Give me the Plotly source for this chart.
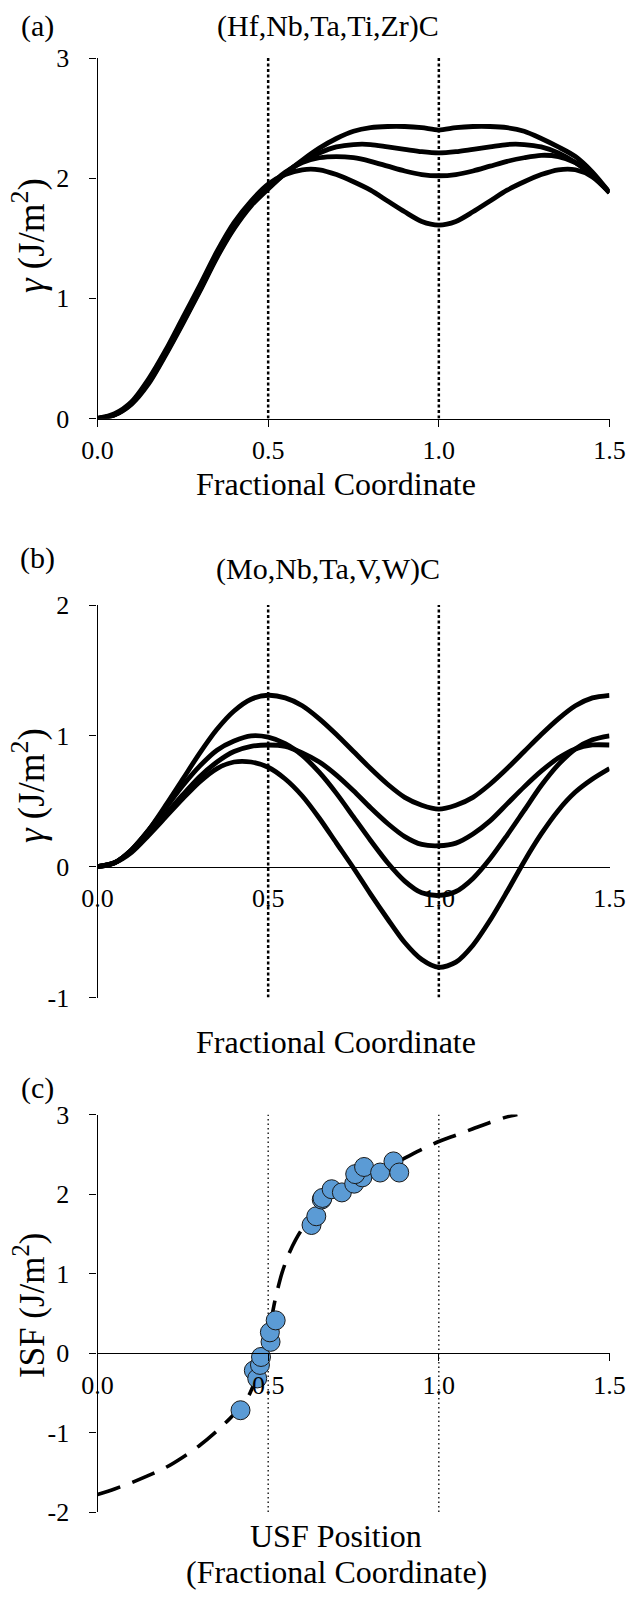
import plotly.graph_objects as go

# ---------------- data ----------------
x_frac = [0.00, 0.05, 0.10, 0.15, 0.20, 0.25, 0.30, 0.35, 0.40, 0.45,
          0.50, 0.55, 0.60, 0.65, 0.70, 0.75, 0.80, 0.85, 0.90, 0.95,
          1.00, 1.05, 1.10, 1.15, 1.20, 1.25, 1.30, 1.35, 1.40, 1.45, 1.50]

# panel (a) (Hf,Nb,Ta,Ti,Zr)C
a_curve1 = [0, 0.03, 0.12, 0.29, 0.53, 0.79, 1.06, 1.34, 1.58, 1.77, 1.91, 2.04, 2.15, 2.25, 2.33, 2.39,
            2.42, 2.43, 2.43, 2.42, 2.40, 2.42, 2.43, 2.43, 2.42, 2.39, 2.33, 2.26, 2.18, 2.05, 1.88]
a_curve2 = [0, 0.03, 0.13, 0.30, 0.54, 0.80, 1.07, 1.35, 1.59, 1.78, 1.92, 2.04, 2.14, 2.21, 2.26, 2.28,
            2.28, 2.26, 2.24, 2.22, 2.21, 2.22, 2.24, 2.26, 2.28, 2.28, 2.26, 2.21, 2.13, 2.02, 1.88]
a_curve3 = [0, 0.03, 0.13, 0.31, 0.55, 0.81, 1.08, 1.36, 1.60, 1.79, 1.93, 2.05, 2.13, 2.17, 2.18, 2.17,
            2.14, 2.10, 2.06, 2.03, 2.02, 2.03, 2.06, 2.10, 2.14, 2.17, 2.19, 2.18, 2.13, 2.03, 1.88]
a_curve4 = [0, 0.04, 0.14, 0.33, 0.57, 0.84, 1.11, 1.39, 1.63, 1.81, 1.95, 2.03, 2.07, 2.07, 2.03, 1.97,
            1.90, 1.81, 1.72, 1.64, 1.61, 1.64, 1.72, 1.81, 1.90, 1.97, 2.03, 2.07, 2.07, 2.01, 1.88]

# panel (b) (Mo,Nb,Ta,V,W)C
b_curve1 = [0, 0.03, 0.13, 0.28, 0.47, 0.67, 0.87, 1.05, 1.19, 1.28, 1.31, 1.29, 1.23, 1.13, 1.01, 0.88,
            0.75, 0.63, 0.53, 0.47, 0.44, 0.47, 0.53, 0.63, 0.75, 0.88, 1.01, 1.13, 1.23, 1.29, 1.31]
b_curve2 = [0, 0.03, 0.13, 0.28, 0.45, 0.62, 0.77, 0.89, 0.96, 1.00, 0.99, 0.94, 0.85, 0.72, 0.56, 0.38,
            0.20, 0.03, -0.11, -0.20, -0.22, -0.19, -0.09, 0.06, 0.24, 0.43, 0.62, 0.78, 0.90, 0.97, 1.00]
b_curve3 = [0, 0.03, 0.12, 0.25, 0.40, 0.55, 0.69, 0.80, 0.88, 0.92, 0.93, 0.92, 0.87, 0.80, 0.70, 0.58,
            0.45, 0.33, 0.23, 0.17, 0.16, 0.18, 0.25, 0.35, 0.48, 0.61, 0.73, 0.83, 0.90, 0.93, 0.93]
b_curve4 = [0, 0.03, 0.11, 0.24, 0.38, 0.52, 0.65, 0.75, 0.80, 0.80, 0.76, 0.67, 0.54, 0.37, 0.18, -0.01,
            -0.21, -0.40, -0.58, -0.71, -0.77, -0.73, -0.60, -0.41, -0.19, 0.04, 0.25, 0.43, 0.57, 0.67, 0.75]

# panel (c) ISF vs USF position
c_fit_x = [0.00, 0.05, 0.10, 0.15, 0.20, 0.25, 0.30, 0.35, 0.40, 0.44, 0.46, 0.48, 0.50, 0.52, 0.54,
           0.56, 0.58, 0.60, 0.65, 0.70, 0.75, 0.80, 0.85, 0.90, 0.95, 1.00, 1.05, 1.10, 1.15, 1.20, 1.23]
c_fit_y = [-1.78, -1.71, -1.63, -1.54, -1.44, -1.31, -1.16, -0.98, -0.77, -0.56, -0.37, -0.11, 0.22, 0.66,
           1.00, 1.24, 1.42, 1.56, 1.80, 1.97, 2.10, 2.22, 2.34, 2.45, 2.56, 2.66, 2.74, 2.82, 2.90, 2.97, 3.00]
c_pts_x = [0.419, 0.458, 0.468, 0.476, 0.479, 0.507, 0.505, 0.522, 0.627, 0.641, 0.657, 0.659,
           0.686, 0.716, 0.752, 0.776, 0.755, 0.781, 0.828, 0.867, 0.884]
c_pts_y = [-0.72, -0.22, -0.32, -0.15, -0.05, 0.14, 0.26, 0.41, 1.61, 1.72, 1.93, 1.95,
           2.06, 2.02, 2.13, 2.21, 2.25, 2.34, 2.27, 2.41, 2.27]

x_ticks = [0, 0.5, 1.0, 1.5]
x_ticktext = ["0.0", "0.5", "1.0", "1.5"]
a_yticks = [0, 1, 2, 3]
b_yticks = [-1, 0, 1, 2]
c_yticks = [-2, -1, 0, 1, 2, 3]
guide_x = [0.5, 1.0]

# ---------------- figure ----------------
W, H = 640, 1598
FONT = "Liberation Serif, Times New Roman, serif"
TICK = 26

def py(p):
    return 1 - p / H

fig = go.Figure()

curve_line = dict(color="black", width=4.8, shape="spline", smoothing=0.8)

for gx in guide_x:
    fig.add_trace(go.Scatter(x=[gx, gx], y=[0, 3], mode="lines", xaxis="x", yaxis="y",
                             line=dict(color="black", width=2.5, dash="3px,2.5px")))
    fig.add_trace(go.Scatter(x=[gx, gx], y=[-1, 2], mode="lines", xaxis="x2", yaxis="y2",
                             line=dict(color="black", width=2.5, dash="3px,2.5px")))
    fig.add_trace(go.Scatter(x=[gx, gx], y=[-2, 3], mode="lines", xaxis="x3", yaxis="y3",
                             line=dict(color="black", width=1.3, dash="1.5px,3px")))

for c in [a_curve1, a_curve2, a_curve3, a_curve4]:
    fig.add_trace(go.Scatter(x=x_frac, y=c, mode="lines", xaxis="x", yaxis="y", line=curve_line))
for c in [b_curve1, b_curve2, b_curve3, b_curve4]:
    fig.add_trace(go.Scatter(x=x_frac, y=c, mode="lines", xaxis="x2", yaxis="y2", line=curve_line))

fig.add_trace(go.Scatter(x=c_fit_x, y=c_fit_y, mode="lines", xaxis="x3", yaxis="y3",
                         line=dict(color="black", width=3.6, dash="24px,13px", shape="spline", smoothing=0.8)))
fig.add_trace(go.Scatter(x=c_pts_x, y=c_pts_y, mode="markers", xaxis="x3", yaxis="y3",
                         marker=dict(size=19, color="#5B9BD5", line=dict(color="#1a1a1a", width=1))))

xdom = [97.5 / W, 609.5 / W]
axis_common = dict(showline=True, linecolor="black", linewidth=1.3, showgrid=False, zeroline=False,
                   automargin=False,
                   tickfont=dict(family=FONT, size=TICK, color="black"), tickcolor="black",
                   tickwidth=1.3)

def hy(vals):
    return [str(v) for v in vals]

fig.update_layout(
    width=W, height=H, margin=dict(l=0, r=0, t=0, b=0, autoexpand=False),
    paper_bgcolor="white", plot_bgcolor="white", showlegend=False,
    font=dict(family=FONT, color="black"),
    xaxis=dict(domain=xdom, range=[0, 1.5], tickvals=x_ticks, ticktext=x_ticktext, anchor="y",
               ticks="outside", ticklen=7, ticklabelstandoff=1, **axis_common),
    yaxis=dict(domain=[py(418.5), py(58)], range=[0, 3], tickvals=a_yticks, ticktext=hy(a_yticks),
               anchor="x", ticks="outside", ticklen=7, ticklabelstandoff=15, **axis_common),
    xaxis2=dict(domain=xdom, range=[0, 1.5], tickvals=x_ticks, ticktext=x_ticktext, anchor="free",
                position=py(866.7), ticks="", ticklabelstandoff=8, **axis_common),
    yaxis2=dict(domain=[py(997.5), py(605)], range=[-1, 2], tickvals=b_yticks, ticktext=hy(b_yticks),
                anchor="x2", ticks="outside", ticklen=7, ticklabelstandoff=15, **axis_common),
    xaxis3=dict(domain=xdom, range=[0, 1.5], tickvals=x_ticks, ticktext=x_ticktext, anchor="free",
                position=py(1353), ticks="outside", ticklen=7, ticklabelstandoff=2, **axis_common),
    yaxis3=dict(domain=[py(1512), py(1114.5)], range=[-2, 3], tickvals=c_yticks, ticktext=hy(c_yticks),
                anchor="x3", ticks="outside", ticklen=7, ticklabelstandoff=15, **axis_common),
)

def ann(text, x, y, size, angle=0):
    fig.add_annotation(text=text, x=x / W, y=py(y), xref="paper", yref="paper",
                       xanchor="center", yanchor="middle", showarrow=False, textangle=angle,
                       font=dict(family=FONT, size=size, color="black"))

ann("(a)", 37, 26, 30)
ann("(Hf,Nb,Ta,Ti,Zr)C", 328, 26, 30)
ann("Fractional Coordinate", 336, 484, 32)
ann("<i>γ</i> (J/m<sup>2</sup>)", 29, 236, 37, -90)

ann("(b)", 37, 558, 30)
ann("(Mo,Nb,Ta,V,W)C", 328, 569, 30)
ann("Fractional Coordinate", 336, 1042, 32)
ann("<i>γ</i> (J/m<sup>2</sup>)", 29, 786, 37, -90)

ann("(c)", 37, 1088, 30)
ann("ISF (J/m<sup>2</sup>)", 29, 1306, 35, -90)
ann("USF Position", 336, 1536, 32)
ann("(Fractional Coordinate)", 336, 1572, 32)

fig.write_html("out.html")
